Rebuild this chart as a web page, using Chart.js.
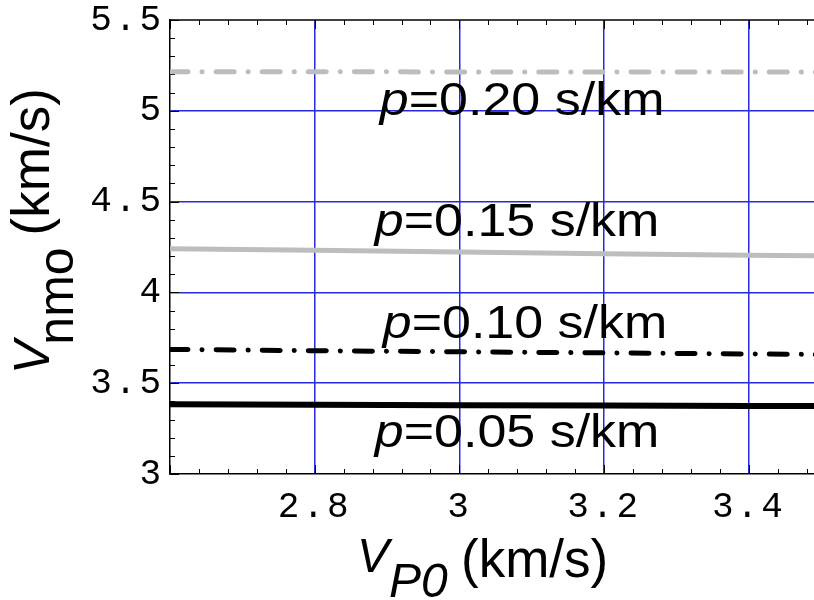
<!DOCTYPE html>
<html>
<head>
<meta charset="utf-8">
<script src="https://cdn.jsdelivr.net/npm/chart.js@4.4.1/dist/chart.umd.min.js"></script>
<style>
  body { margin: 0; background: #fff; }
</style>
</head>
<body>
<canvas id="myChart" width="814" height="600"></canvas>
<script>
// values
let vp0 = [2.6, 2.8, 3.0, 3.2, 3.4, 3.5];
let vnmoP05 = [3.384, 3.381, 3.379, 3.377, 3.375, 3.374];
let vnmoP10 = [3.686, 3.679, 3.673, 3.667, 3.661, 3.658];
let vnmoP15 = [4.240, 4.232, 4.222, 4.213, 4.205, 4.201];
let vnmoP20 = [5.215, 5.215, 5.214, 5.214, 5.213, 5.213];
let pValues = ['0.05', '0.10', '0.15', '0.20'];
let xTicks = [2.8, 3, 3.2, 3.4];
let yTicks = [3, 3.5, 4, 4.5, 5, 5.5];

let blue = 'rgb(40,40,225)';
let sans = '"Liberation Sans", Arial, sans-serif';
let mono = '"Liberation Mono", monospace';

function pts(arr) {
  return vp0.map((x, i) => ({ x: x, y: arr[i] }));
}

// where the p= labels sit (data coords of left end / baseline)
let labelPos = [
  { x: 2.883, y: 3.149 },
  { x: 2.894, y: 3.749 },
  { x: 2.883, y: 4.311 },
  { x: 2.890, y: 4.977 }
];

let framePlugin = {
  id: 'frame',
  beforeDraw(chart) {
    chart.ctx.letterSpacing = '3px';
  },
  beforeDatasetsDraw(chart) {
    let ctx = chart.ctx;
    let a = chart.chartArea;
    let xs = chart.scales.x, ys = chart.scales.y;
    ctx.save();
    ctx.letterSpacing = '0px';
    ctx.strokeStyle = '#000';
    ctx.lineWidth = 1.5;
    // top frame
    ctx.beginPath();
    ctx.moveTo(a.left, a.top);
    ctx.lineTo(a.right, a.top);
    ctx.stroke();
    ctx.lineWidth = 1;
    // minor / major ticks on x (top and bottom)
    for (let i = 0; i <= 25; i++) {
      let v = 2.6 + i * 0.04;
      let px = Math.round(xs.getPixelForValue(v)) + 0.5;
      if (px > a.right) break;
      let len = i % 5 === 0 ? 9 : 5;
      ctx.beginPath();
      ctx.moveTo(px, a.top); ctx.lineTo(px, a.top + len);
      ctx.moveTo(px, a.bottom); ctx.lineTo(px, a.bottom - len);
      ctx.stroke();
    }
    // ticks on y (left)
    for (let i = 0; i <= 25; i++) {
      let v = 3 + i * 0.1;
      let py = Math.round(ys.getPixelForValue(v)) + 0.5;
      let len = i % 5 === 0 ? 9 : 5;
      ctx.beginPath();
      ctx.moveTo(a.left, py); ctx.lineTo(a.left + len, py);
      ctx.stroke();
    }
    ctx.restore();
  },
  afterDraw(chart) {
    let ctx = chart.ctx;
    let xs = chart.scales.x, ys = chart.scales.y;
    ctx.save();
    ctx.letterSpacing = '0px';
    ctx.fillStyle = '#000';
    ctx.textBaseline = 'alphabetic';
    ctx.textAlign = 'left';
    // p= labels
    pValues.forEach((p, i) => {
      ctx.save();
      ctx.translate(xs.getPixelForValue(labelPos[i].x), ys.getPixelForValue(labelPos[i].y));
      ctx.scale(1.13, 1);
      ctx.font = 'italic 46px ' + sans;
      ctx.fillText('p', 0, 0);
      let w = ctx.measureText('p').width;
      ctx.font = '46px ' + sans;
      ctx.fillText('=' + p + ' s/km', w, 0);
      ctx.restore();
    });

    // y title
    ctx.save();
    ctx.translate(49, 374);
    ctx.rotate(-Math.PI / 2);
    ctx.font = 'italic 50px ' + sans;
    ctx.fillText('V', 0, 0);
    let wv = ctx.measureText('V').width;
    ctx.font = '50px ' + sans;
    ctx.fillText('nmo', wv - 4, 24);
    let wn = ctx.measureText('nmo').width;
    ctx.font = '53px ' + sans;
    ctx.fillText('(km/s)', wv + wn + 8, 0);
    ctx.restore();

    // x title
    ctx.font = 'italic 48px ' + sans;
    ctx.fillText('V', 357, 572);
    ctx.font = 'italic 48px ' + sans;
    ctx.fillText('P0', 389, 597);
    ctx.font = '53px ' + sans;
    ctx.fillText('(km/s)', 461, 577);
    ctx.restore();
  }
};

let ctx = document.getElementById('myChart');
let myChart = new Chart(ctx, {
  type: 'line',
  data: {
    datasets: [
      {
        label: 'p=0.05',
        data: pts(vnmoP05),
        borderColor: '#000',
        borderWidth: 6,
        pointRadius: 0,
        clip: 0
      },
      {
        label: 'p=0.10',
        data: pts(vnmoP10),
        borderColor: '#000',
        borderWidth: 5,
        borderDash: [18, 14, 0.1, 14],
        borderCapStyle: 'round',
        pointRadius: 0,
        clip: 0
      },
      {
        label: 'p=0.15',
        data: pts(vnmoP15),
        borderColor: '#bdbdbd',
        borderWidth: 5,
        pointRadius: 0,
        clip: 0
      },
      {
        label: 'p=0.20',
        data: pts(vnmoP20),
        borderColor: '#bdbdbd',
        borderWidth: 5,
        borderDash: [18, 14, 0.1, 14],
        borderCapStyle: 'round',
        pointRadius: 0,
        clip: 0
      }
    ]
  },
  options: {
    responsive: false,
    animation: false,
    devicePixelRatio: 1,
    layout: { padding: { top: 20, left: 0, right: 0, bottom: 0 } },
    plugins: {
      legend: { display: false },
      tooltip: { enabled: false }
    },
    scales: {
      x: {
        type: 'linear',
        min: 2.6,
        max: 3.49,
        afterBuildTicks: s => { s.ticks = xTicks.map(v => ({ value: v })); },
        afterFit: s => { s.height = 126; s.paddingLeft = 0; s.paddingRight = 0; },
        grid: { color: blue, lineWidth: 1.5, drawTicks: false },
        border: { display: true, color: '#000', width: 1.5 },
        ticks: {
          color: '#000',
          padding: 12,
          font: { family: mono, size: 36 },
          maxRotation: 0,
          callback: v => String(v)
        }
      },
      y: {
        type: 'linear',
        min: 3,
        max: 5.5,
        afterBuildTicks: s => { s.ticks = yTicks.map(v => ({ value: v })); },
        afterFit: s => { s.width = 170; s.paddingTop = 0; s.paddingBottom = 0; },
        grid: {
          color: c => (c.tick && (c.tick.value === 3 || c.tick.value === 5.5)) ? 'rgba(0,0,0,0)' : blue,
          lineWidth: 1.5,
          drawTicks: false
        },
        border: { display: true, color: '#000', width: 1.5 },
        ticks: {
          color: '#000',
          padding: 6,
          font: { family: mono, size: 36 },
          callback: v => String(v)
        }
      }
    }
  },
  plugins: [framePlugin]
});
</script>
</body>
</html>
